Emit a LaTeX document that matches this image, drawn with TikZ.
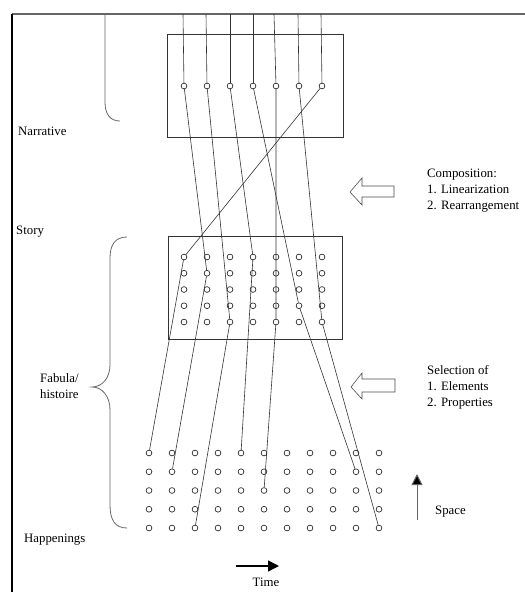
\documentclass[tikz,border=0pt]{standalone}
\usepackage{fontspec}
\setmainfont{Liberation Serif}
\usetikzlibrary{arrows.meta}
\begin{document}
\begin{tikzpicture}[x=1pt,y=-1pt,
  dot/.style={circle,draw=black!85,line width=0.65pt,inner sep=0pt,minimum size=5.8pt},
  link/.style={draw=black!80,line width=0.6pt},
  boxline/.style={draw=black!80,line width=0.9pt},
  bracel/.style={draw=black!60,line width=0.8pt},
  lbl/.style={font=\fontsize{12.8}{16}\selectfont,inner sep=0pt,anchor=west,align=left},
  openarrow/.style={draw=black!70,line width=0.6pt,fill=white}]
\useasboundingbox (0,0) rectangle (525,592);
% frame
\draw[black!60,line width=1.5pt] (12,14) -- (525,14);
\draw[black,line width=1.1pt] (12,14) -- (12,592);
% boxes
\draw[boxline] (167,34) rectangle (343,137);
\draw[boxline] (168,236) rectangle (342,339);
% dots
\foreach \i in {1,...,7} {
  \node[dot] (t\i) at ({184+23*(\i-1)},86) {};
  \foreach \j in {1,...,5}
    \node[dot] (m\i-\j) at ({184+23*(\i-1)},{257+16.25*(\j-1)}) {};
}
\foreach \i in {1,...,11}
  \foreach \j in {1,...,5}
    \node[dot] (b\i-\j) at ({149+23*(\i-1)},{453+18.75*(\j-1)}) {};
% top ends
\coordinate (e1) at (183,14);
\coordinate (e2) at (206,14);
\coordinate (e3) at (230,14);
\coordinate (e4) at (253,14);
\coordinate (e5) at (274,14);
\coordinate (e6) at (298,14);
\coordinate (e7) at (321,14);
\foreach \i in {1,...,7} \draw[link] (e\i) -- (t\i);
% threads
\draw[link] (t1) -- (m2-2) -- (b2-2);
\draw[link] (t2) -- (m3-5) -- (b3-5);
\draw[link] (t3) -- (m4-1) -- (b5-1);
\draw[link] (t4) -- (m6-4) -- (b10-2);
\draw[link] (t5) -- (m5-5) -- (b6-3);
\draw[link] (t6) -- (m7-5) -- (b11-5);
\draw[link] (t7) -- (m1-1) -- (b1-1);
% brackets
\draw[bracel] (105,14) -- (105,102) .. controls (105,114) and (110,121) .. (120,121);
\draw[bracel] (127,237) .. controls (115,237) and (110,245) .. (110,258) -- (110,365)
  .. controls (110,378) and (102,387) .. (92,387)
  .. controls (102,387) and (110,396) .. (110,410) -- (110,505)
  .. controls (110,520) and (115,528) .. (127,528);
% open arrows
\draw[openarrow] (350,192) -- (362,178) -- (362,186) -- (394,186) -- (394,197) -- (362,197) -- (362,205) -- cycle;
\draw[openarrow] (351,387) -- (362,373) -- (362,379) -- (395,379) -- (395,392) -- (362,392) -- (362,399) -- cycle;
% space & time arrows
\coordinate (s0) at (417,520);
\coordinate (s1) at (417,474);
\draw[black!60,line width=1pt,-{Triangle[width=11pt,length=11pt,fill=black]}] (s0) -- (s1);
\coordinate (ti0) at (236,566);
\coordinate (ti1) at (279,566);
\draw[black,line width=1.3pt,-{Triangle[width=11pt,length=11pt]}] (ti0) -- (ti1);
% labels
\node[lbl] (nar) at (18,131) {Narrative};
\node[lbl] (sto) at (16,232) {Story};
\node[lbl] (fab) at (40,386) {Fabula/\\histoire};
\node[lbl] (hap) at (24,540) {Happenings};
\node[lbl] (comp) at (427,191) {Composition:\\1. Linearization\\2. Rearrangement};
\node[lbl] (sel) at (427,387) {Selection of\\1. Elements\\2. Properties};
\node[lbl] (spa) at (435,512) {Space};
\node[lbl,anchor=center] (tim) at (266,582) {Time};
\end{tikzpicture}
\end{document}
